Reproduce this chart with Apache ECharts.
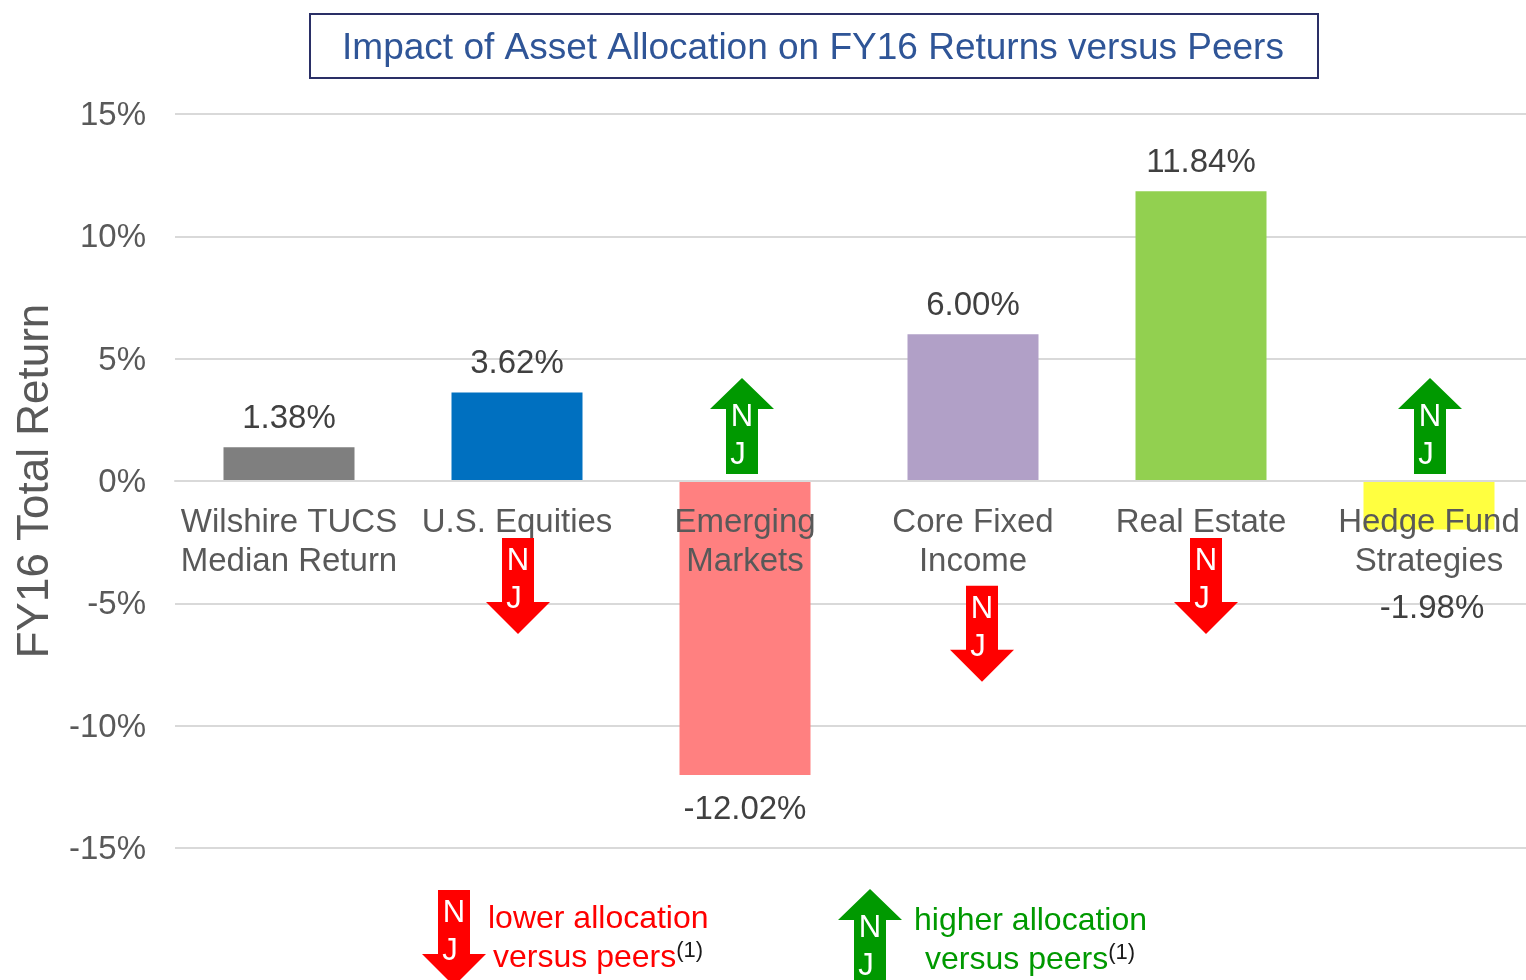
<!DOCTYPE html>
<html><head><meta charset="utf-8">
<style>html,body{margin:0;padding:0;background:#fff;overflow:hidden}#c{width:1526px;height:980px}</style>
<script src="https://cdn.jsdelivr.net/npm/echarts@6/dist/echarts.min.js"></script>
</head><body><div id="c"></div>
<script>
const categories = ['Wilshire TUCS\nMedian Return','U.S. Equities','Emerging\nMarkets','Core Fixed\nIncome','Real Estate','Hedge Fund\nStrategies'];
const returns = [1.38, 3.62, -12.02, 6.00, 11.84, -1.98];
const barColors = ['#7F7F7F','#0070C0','#FF8080','#B1A0C7','#92D050','#FFFF40'];
const labelDistances = [12, 12, 18, 12, 12, 63];
const labelNudge = [0, 0, 0, 0, 0, 3];
const yTicks = {min:-15, max:15, interval:5};
// arrows: category index, tip value on the return axis, direction, sideways nudge
const arrowCats = [1, 2, 3, 4, 5];
const arrowTips = [-6.25, 4.21, -8.21, -6.25, 4.21];
const arrowDirs = ['down','up','down','down','up'];
const arrowNudge = [1, -3, 9, 5, 1];
const FONT = '"Liberation Sans", Arial, sans-serif';
const RED = '#FF0000', GREEN = '#009900';

function arrowParts(cx, tip, dir) {
  const s = dir === 'up' ? 1 : -1;
  const hd = dir === 'up' ? 31 : 32;
  const pts = [[cx,tip],[cx+32,tip+s*hd],[cx+16,tip+s*hd],[cx+16,tip+s*96],[cx-16,tip+s*96],[cx-16,tip+s*hd],[cx-32,tip+s*hd]];
  const ny = dir === 'up' ? tip+39.5 : tip-72.5;
  const jy = dir === 'up' ? tip+77.5 : tip-34.5;
  const txt = (t,x,y) => ({type:'text', style:{text:t, x:x, y:y, fill:'#fff', font:'31px '+FONT, textAlign:'center', textVerticalAlign:'middle'}});
  return [
    {type:'polygon', shape:{points:pts}, style:{fill: dir==='up'?GREEN:RED}},
    txt('N',cx,ny), txt('J',cx-4,jy)
  ];
}
function legendText(l1, x1, y1, l2, x2, y2, col) {
  const rich = {m:{fontSize:32, fontFamily:FONT, fill:col}, s:{fontSize:22, fontFamily:FONT, fill:'#1a1a1a', verticalAlign:'top', padding:[0,0,14,0]}};
  return [
    {type:'text', left:x1, top:y1-14, style:{text:l1, fill:col, font:'32px '+FONT}},
    {type:'text', left:x2, top:y2-16, style:{text:'{m|'+l2+'}{s|(1)}', rich:rich}}
  ];
}
const chart = echarts.init(document.getElementById('c'), null, {renderer:'canvas'});
chart.setOption({
  animation:false,
  backgroundColor:'#fff',
  title:{text:'Impact of Asset Allocation on FY16 Returns versus Peers', left:808, top:25, textAlign:'center',
    textStyle:{color:'#2F5597', fontSize:37, fontWeight:'normal', fontFamily:FONT}},
  grid:{left:175, top:114, width:1368, height:734, containLabel:false, outerBoundsMode:'none'},
  xAxis:{type:'category', data:categories, z:5, position:'bottom', offset:-367,
    axisLine:{onZero:false, lineStyle:{color:'#D9D9D9', width:2}}, axisTick:{show:false},
    axisLabel:{color:'#595959', fontSize:33, fontFamily:FONT, lineHeight:39, margin:22, interval:0, hideOverlap:false}},
  yAxis:{type:'value', min:yTicks.min, max:yTicks.max, interval:yTicks.interval,
    name:'FY16 Total Return', nameLocation:'middle', nameGap:112, nameRotate:90,
    nameTextStyle:{color:'#595959', fontSize:44, fontFamily:FONT},
    axisLine:{show:false}, axisTick:{show:false},
    axisLabel:{margin:29, formatter:'{v|{value}%}',
      rich:{v:{color:'#595959', fontSize:33, fontFamily:FONT, padding:[4,0,0,0]}}},
    splitLine:{lineStyle:{color:'#D9D9D9', width:2}}},
  series:[
    {type:'bar', barWidth:131, z:2,
     data:returns.map((v,i)=>({value:v, itemStyle:{color:barColors[i]},
       label:{show:true, position:v>=0?'top':'bottom', distance:labelDistances[i], offset:[labelNudge[i],0],
         formatter:v.toFixed(2)+'%', color:'#404040', fontSize:33, fontFamily:FONT}}))},
    {type:'custom', z:8, clip:false, silent:true,
     data:arrowCats.map((c,i)=>[c, arrowTips[i], i]),
     encode:{x:0,y:1},
     renderItem:(p,api)=>{
       const i = api.value(2);
       const pt = api.coord([api.value(0), api.value(1)]);
       return {type:'group', children:arrowParts(pt[0]+arrowNudge[i], pt[1], arrowDirs[i])};
     }}
  ],
  graphic:[
    {type:'rect', shape:{x:310,y:14,width:1008,height:64}, style:{fill:'none', stroke:'#2A2F66', lineWidth:2}, z:10},
    {type:'group', children:arrowParts(454, 986, 'down'), z:10},
    {type:'group', children:arrowParts(870, 889, 'up'), z:10},
    ...legendText('lower allocation',488,917,'versus peers',493,956,RED),
    ...legendText('higher allocation',914,919,'versus peers',925,958,GREEN)
  ]
});
</script></body></html>
